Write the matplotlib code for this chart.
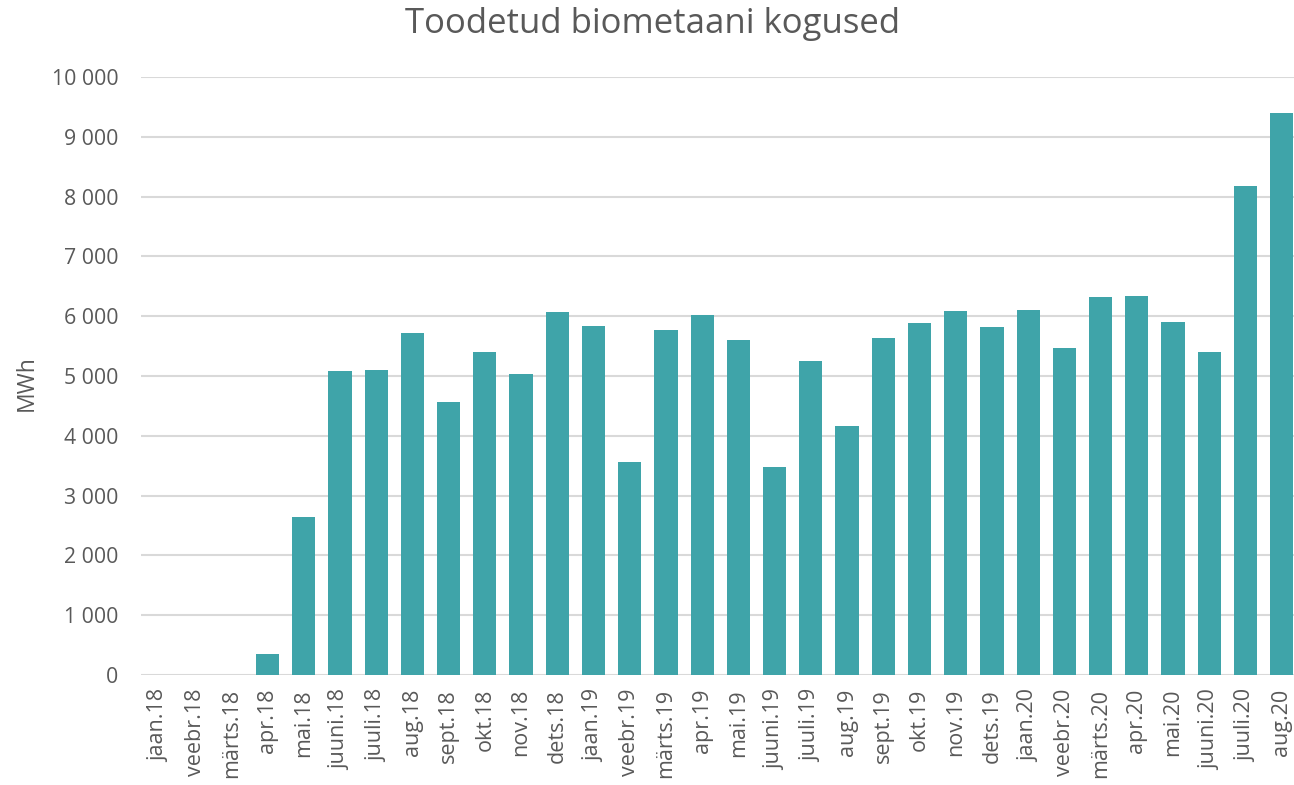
import matplotlib
matplotlib.use("Agg")
import matplotlib.pyplot as plt
from matplotlib.ticker import FuncFormatter

categories = ["jaan.18", "veebr.18", "märts.18", "apr.18", "mai.18", "juuni.18", "juuli.18",
              "aug.18", "sept.18", "okt.18", "nov.18", "dets.18", "jaan.19", "veebr.19",
              "märts.19", "apr.19", "mai.19", "juuni.19", "juuli.19", "aug.19", "sept.19",
              "okt.19", "nov.19", "dets.19", "jaan.20", "veebr.20", "märts.20", "apr.20",
              "mai.20", "juuni.20", "juuli.20", "aug.20"]
values = [0, 0, 0, 350, 2640, 5080, 5100, 5720, 4565, 5400, 5030, 6075, 5830, 3560,
          5770, 6020, 5600, 3470, 5250, 4160, 5630, 5885, 6090, 5815, 6110, 5460,
          6320, 6335, 5905, 5400, 8170, 9400]
yticks = list(range(0, 10001, 1000))

title = "Toodetud biometaani kogused"
ylabel = "MWh"

plt.rcParams['font.family'] = ['Open Sans', 'DejaVu Sans']
TXT = "#595959"

W, H = 1294, 785
fig = plt.figure(figsize=(W / 100, H / 100), dpi=100)
left, right = 140.7, 1299.8
bottom, top = 675, 77
ax = fig.add_axes([left / W, (H - bottom) / H, (right - left) / W, (bottom - top) / H])

x = list(range(len(categories)))
ax.bar(x, values, width=0.64, color="#3FA4A9", zorder=3)
ax.set_xlim(-0.5, len(categories) - 0.5)
ax.set_ylim(0, 10000)
ax.set_yticks(yticks)
ax.yaxis.set_major_formatter(FuncFormatter(lambda v, p: f"{int(v):,}".replace(",", " ")))
ax.set_xticks(x)
ax.set_xticklabels(categories, rotation=90, fontsize=15.5, color=TXT)
ax.tick_params(axis='y', labelsize=15.3, labelcolor=TXT, length=0, pad=16)
ax.tick_params(axis='x', length=0, pad=10)
ax.grid(axis='y', color="#D9D9D9", linewidth=1.5, zorder=0)
for s in ax.spines.values():
    s.set_visible(False)
fig.text(27 / W, 1 - 383 / H, ylabel, rotation=90, ha='center', va='center',
         fontsize=16.5, color=TXT)
fig.text(653 / W, 1 - 24 / H, title, ha='center', va='center', fontsize=25, color=TXT)

fig.savefig("out.png", dpi=100)
